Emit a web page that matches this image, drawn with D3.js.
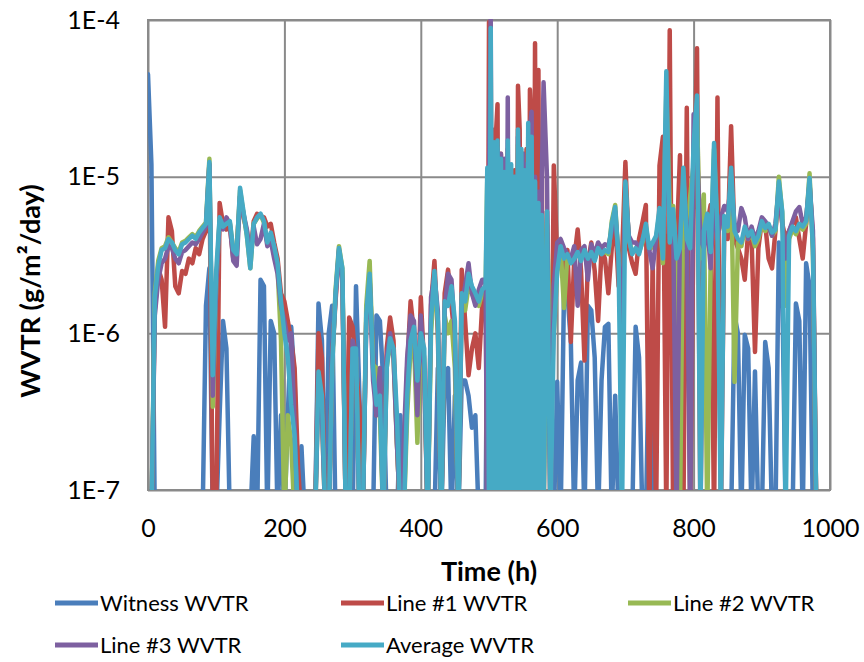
<!DOCTYPE html>
<html><head><meta charset="utf-8">
<script src="https://cdn.jsdelivr.net/npm/d3@7"></script>
<style>body{margin:0;background:#fff}svg{display:block}</style>
</head><body>
<svg id="c" width="864" height="662"></svg>
<script>
// ---- data ----
const times = [
0,5,10,15,20,25,30,35,40,45,
50,55,60,65,70,75,80,85,90,95,
100,105,110,115,120,125,130,135,140,145,
150,155,160,165,170,175,180,185,190,195,
200,205,210,215,220,225,230,235,240,245,
250,255,260,265,270,275,280,285,290,295,
300,305,310,315,320,325,330,335,340,345,
350,355,360,365,370,375,380,385,390,395,
400,405,410,415,420,425,430,435,440,445,
450,455,460,465,470,475,480,485,490,
495,497.5,500,502.5,505,507.5,510,512.5,515,517.5,
520,522.5,525,527.5,530,532.5,535,537.5,540,542.5,
545,547.5,550,552.5,555,557.5,560,562.5,565,567.5,
570,572.5,575,577.5,580,
585,590,595,600,605,610,615,620,625,630,
635,640,645,650,655,660,665,670,675,680,
685,690,695,700,705,710,715,720,725,730,
735,740,745,750,755,760,765,770,775,780,
785,790,795,800,805,810,815,820,825,830,
835,840,845,850,855,860,865,870,875,880,
885,890,895,900,905,910,915,920,925,930,
935,940,945,950,955,960,965,970,975,980];

const witness = [
4.5e-5,1.2e-5,0,0,0,0,0,0,0,0,
0,0,0,0,0,0,0,1.5e-6,2.6e-6,0,
0,3e-7,1.2e-6,8e-7,0,0,0,0,0,0,
0,2.2e-7,0,2.2e-6,2.0e-6,0,1.2e-6,1.0e-6,0,3e-7,
0,3e-7,1.1e-6,5e-7,0,1.9e-7,0,0,0,0,
1.55e-6,9e-7,0,1.0e-6,1.5e-6,0,0,0,0,9e-7,
0,2.0e-6,4e-7,0,0,0,0,1.3e-6,1.2e-6,5e-7,
0,0,0,0,3e-7,0,0,0,0,0,
0,0,0,0,0,6e-7,0,5e-7,6e-7,0,
4e-7,0,5e-7,5e-7,4e-7,2.5e-7,3e-7,0,0,
0,2e-6,0,4e-6,0,5e-6,0,3e-6,0,4e-6,
0,2e-6,0,5e-6,0,3e-6,0,4e-6,0,3e-6,
0,2e-6,0,3e-6,0,2e-6,0,1.5e-6,0,1e-6,
0,8e-7,0,0,0,
0,0,0,4.9e-7,0,1.9e-6,1.8e-6,8.8e-7,0,5e-7,
6.5e-7,0,1.5e-6,1.4e-6,7e-7,0,5e-7,1.1e-6,1.15e-6,0,
4e-7,0,0,0,0,0,1.1e-6,7e-7,0,0,
1.0e-6,0,0,0,0,0,0,0,0,0,
0,0,0,0,0,0,0,0,0,0,
0,0,0,0,0,1.3e-6,1.0e-6,0,9.8e-7,8e-7,
0,5.7e-7,0,0,8.8e-7,6e-7,0,0,3.8e-6,2.0e-6,
0,0,0,1.55e-6,1.2e-6,0,2.8e-6,2.0e-6,0,0];

const line1 = [
0,0,1.4e-6,2.6e-6,2.2e-6,1.1e-6,5.5e-6,4.5e-6,2.0e-6,1.8e-6,
2.5e-6,2.4e-6,3.0e-6,2.8e-6,3.5e-6,3.2e-6,4.0e-6,4.5e-6,1.2e-5,0,
0,6.8e-6,5.0e-6,4.6e-6,4.8e-6,3.0e-6,3.5e-6,7.5e-6,5.5e-6,4.5e-6,
3.0e-6,5.2e-6,5.8e-6,5.6e-6,5.5e-6,4.8e-6,5.0e-6,3.8e-6,3.0e-6,1.8e-6,
1.6e-6,1.2e-6,9e-7,6e-7,1.4e-7,0,0,0,0,0,
1.0e-6,7e-7,0,0,7e-7,1.6e-6,3.3e-6,2.4e-6,0,1.26e-6,
1.1e-6,6e-7,3.4e-7,0,1.2e-6,2.2e-6,7e-7,3e-7,5e-7,0,
8e-7,1.26e-6,9e-7,2e-7,0,0,6e-7,1.6e-6,1.0e-6,3e-7,
1.7e-6,6e-7,0,1.5e-6,2.9e-6,1.0e-6,0,1.8e-6,2.55e-6,1.5e-6,
9e-7,0,2.55e-6,1.2e-6,5.4e-7,8e-7,1.0e-6,6e-7,1.5e-6,
2.0e-6,0,9.7e-5,0,2.0e-5,0,1.8e-5,2.9e-5,0,1.4e-5,
0,1.1e-5,0,1.5e-5,0,1.0e-5,0,1.1e-5,0,3.8e-5,
2.0e-5,0,1.4e-5,0,1.5e-5,0,3.6e-5,2.0e-5,0,7.1e-5,
0,4.8e-5,0,1.2e-5,0,
6e-6,0,1.18e-5,3.0e-6,3.8e-6,2.5e-6,3.4e-6,8.8e-7,3.0e-6,4.6e-6,
2.5e-6,6.7e-7,2.8e-6,3.8e-6,2.5e-6,1.2e-6,3.4e-6,3.0e-6,1.8e-6,3.5e-6,
5.5e-6,2.0e-6,3.0e-6,1.24e-5,3.5e-6,2.8e-6,2.4e-6,4.0e-6,5.1e-6,6.6e-6,
0,3.0e-6,0,1.18e-5,1.8e-5,0,8.6e-5,0,3.5e-6,1.37e-5,
0,2.75e-5,0,6.0e-6,6.6e-5,0,6.0e-6,5.0e-6,6.6e-6,0,
3.2e-5,0,5.0e-6,4.0e-6,2.1e-5,4.0e-6,3.5e-6,3.0e-6,2.2e-6,4.5e-6,
4.0e-6,7.6e-7,3.5e-6,5.2e-6,5.0e-6,3.0e-6,2.6e-6,4.5e-6,8.0e-6,5.0e-6,
4.0e-6,4.5e-6,5.0e-6,5.5e-6,4.0e-6,3.0e-6,5.0e-6,9.0e-6,4.0e-6,0];

const line2 = [
0,0,1.8e-6,2.9e-6,3.5e-6,3.6e-6,4.1e-6,3.8e-6,3.5e-6,3.3e-6,
3.8e-6,3.9e-6,4.1e-6,4.3e-6,4.1e-6,4.5e-6,4.8e-6,5.1e-6,1.3e-5,3.4e-7,
2.0e-6,5.4e-6,4.8e-6,5.0e-6,5.1e-6,3.4e-6,3.2e-6,8.2e-6,5.8e-6,4.2e-6,
2.6e-6,5.0e-6,5.4e-6,5.7e-6,5.1e-6,3.8e-6,4.3e-6,3.5e-6,2.6e-6,9e-7,
0,3e-7,2e-7,0,0,0,0,0,0,0,
5e-7,3e-7,0,0,6e-7,1.9e-6,3.6e-6,2.6e-6,0,0,
8e-7,7e-7,0,0,1.5e-6,2.9e-6,6.3e-7,6e-7,3e-7,0,
6e-7,9e-7,7e-7,2e-7,0,0,3e-7,8e-7,9e-7,2e-7,
1.0e-6,7e-7,0,1.0e-6,2.2e-6,1.2e-6,0,1.3e-6,1.0e-6,1.2e-6,
6e-7,0,1.6e-6,1.4e-6,2.0e-6,1.8e-6,1.6e-6,1.5e-6,1.8e-6,
1.8e-6,1.0e-5,0,6e-5,0,1.4e-5,0,1.5e-5,0,1.1e-5,
0,9e-6,0,1.4e-5,0,1.0e-5,0,9e-6,0,1.6e-5,
0,1.2e-5,0,9e-6,0,1.8e-5,0,1.5e-5,0,8e-6,
0,6e-6,0,5e-6,0,
5e-6,1e-6,1e-6,2.5e-6,3.5e-6,1.45e-6,3.2e-6,2.9e-6,3.0e-6,3.2e-6,
3.0e-6,3.3e-6,3.1e-6,3.2e-6,3.0e-6,3.4e-6,3.3e-6,3.3e-6,3.2e-6,5.2e-6,
6.6e-6,3.0e-6,1.0e-6,9.0e-6,4.0e-6,3.3e-6,3.4e-6,3.3e-6,3.8e-6,4.8e-6,
3.4e-6,3.6e-6,4.0e-6,6.0e-6,2.8e-6,3.5e-5,6.5e-6,6.5e-6,2.8e-6,0,
1.0e-5,3.5e-6,7.5e-6,1.2e-5,2.5e-5,3.0e-6,7.7e-6,0,3.0e-6,1.5e-5,
4.2e-6,5.0e-6,5.5e-6,4.5e-6,1.0e-5,4.9e-7,3.8e-6,3.6e-6,4.6e-6,4.0e-6,
4.3e-6,3.6e-6,4.0e-6,5.0e-6,4.5e-6,4.8e-6,4.2e-6,4.5e-6,1.0e-5,5.8e-6,
1.5e-6,4.0e-6,4.6e-6,4.3e-6,4.8e-6,4.6e-6,5.0e-6,1.05e-5,3.3e-6,0];

const line3 = [
0,0,1.3e-6,2.2e-6,2.8e-6,3.0e-6,3.6e-6,3.5e-6,3.0e-6,2.8e-6,
3.3e-6,3.4e-6,3.6e-6,3.8e-6,3.7e-6,4.0e-6,4.4e-6,4.8e-6,1.2e-5,4e-7,
2.0e-6,5.2e-6,4.6e-6,5.5e-6,5.0e-6,2.9e-6,2.7e-6,7.5e-6,5.8e-6,4.6e-6,
3.0e-6,4.8e-6,3.7e-6,4.0e-6,5.0e-6,3.6e-6,3.9e-6,3.0e-6,2.4e-6,1.5e-6,
1.2e-6,9e-7,1.0e-6,2.5e-7,0,0,0,0,0,0,
5e-7,3e-7,0,0,7e-7,1.7e-6,3.4e-6,2.2e-6,0,0,
9e-7,7e-7,0,0,1.2e-6,2.2e-6,5e-7,3e-7,6e-7,0,
7e-7,1.0e-6,7e-7,2e-7,0,2e-7,7e-7,1.3e-6,1.2e-6,3e-7,
1.3e-6,6e-7,0,1.7e-6,2.3e-6,1.4e-6,0,1.4e-6,2.4e-6,2.2e-6,
1.0e-6,0,1.6e-6,2.0e-6,2.8e-6,1.8e-6,1.5e-6,1.9e-6,2.2e-6,
2.2e-6,0,1.0e-5,1.05e-4,0,1.6e-5,0,1.5e-5,0,1.4e-5,
0,1.3e-5,0,3.2e-5,0,1.0e-5,0,1.0e-5,0,1.8e-5,
1.2e-5,0,1.4e-5,0,1.2e-5,0,2.0e-5,2.6e-5,0,1.0e-5,
0,8e-6,0,1.0e-5,4.0e-5,
1.0e-5,0,2.0e-6,3.8e-6,4.0e-6,3.5e-6,3.2e-6,3.0e-6,3.6e-6,1.5e-6,
3.4e-6,3.6e-6,2.2e-6,3.7e-6,3.2e-6,3.8e-6,3.5e-6,3.7e-6,3.6e-6,4.5e-6,
6.0e-6,3.0e-6,1.0e-6,8.5e-6,4.2e-6,3.8e-6,3.8e-6,3.5e-6,4.0e-6,4.6e-6,
3.4e-6,2.6e-6,4.0e-6,5.5e-6,3.5e-6,2.5e-5,4.0e-6,5.0e-6,0,4.5e-6,
8.0e-6,5.0e-6,0,2.5e-5,1.5e-5,4.0e-6,3.5e-6,5.0e-6,2.6e-6,8.0e-6,
4.0e-6,5.5e-6,6.5e-6,6.0e-6,9.0e-6,5.0e-6,4.5e-6,6.3e-6,5.5e-6,4.0e-6,
4.8e-6,4.0e-6,4.5e-6,5.5e-6,5.2e-6,4.8e-6,4.2e-6,5.0e-6,8.5e-6,5.0e-6,
3.0e-6,4.5e-6,5.2e-6,6.0e-6,6.4e-6,5.0e-6,5.5e-6,9.0e-6,4.5e-6,0];

const average = [
0,0,1.7e-6,2.7e-6,3.4e-6,3.5e-6,4.0e-6,3.8e-6,3.4e-6,3.2e-6,
3.7e-6,3.8e-6,4.0e-6,4.2e-6,4.0e-6,4.4e-6,4.7e-6,5.0e-6,1.24e-5,5.4e-7,
2.5e-6,5.5e-6,4.8e-6,5.0e-6,5.2e-6,3.4e-6,3.2e-6,8.5e-6,6.0e-6,4.2e-6,
2.6e-6,5.0e-6,5.5e-6,5.8e-6,5.2e-6,3.8e-6,4.4e-6,3.6e-6,2.8e-6,1.6e-6,
1.0e-6,7e-7,3.5e-7,2.2e-7,0,0,0,0,0,0,
5.7e-7,4e-7,0,0,6e-7,1.8e-6,3.5e-6,2.6e-6,0,0,
8e-7,8e-7,0,0,1.3e-6,2.4e-6,6e-7,3.5e-7,4e-7,0,
6e-7,9.3e-7,8e-7,3e-7,0,0,4e-7,9e-7,1.1e-6,5e-7,
1.0e-6,8e-7,0,1.2e-6,2.5e-6,1.2e-6,0,1.6e-6,1.5e-6,2.0e-6,
1.2e-6,0,1.8e-6,1.6e-6,2.4e-6,2.0e-6,1.8e-6,1.6e-6,1.9e-6,
2.0e-6,1.14e-5,0,8.9e-5,0,1.66e-5,0,1.7e-5,0,1.3e-5,
0,1.07e-5,0,1.7e-5,0,1.2e-5,0,1.0e-5,0,2.0e-5,
0,1.5e-5,0,1.1e-5,0,2.2e-5,0,1.8e-5,0,9.3e-6,
0,6.8e-6,0,5.7e-6,0,
6e-6,0,1.0e-6,2.5e-6,3.6e-6,3.0e-6,3.2e-6,2.8e-6,3.0e-6,3.3e-6,
2.9e-6,3.4e-6,3.0e-6,3.3e-6,2.9e-6,3.5e-6,3.2e-6,3.4e-6,3.3e-6,5.0e-6,
6.4e-6,3.0e-6,0,9.3e-6,4.0e-6,3.2e-6,3.5e-6,3.2e-6,3.9e-6,5.0e-6,
3.5e-6,3.8e-6,4.2e-6,6.3e-6,3.0e-6,4.7e-5,3.8e-6,6.2e-6,3.0e-6,3.5e-6,
1.14e-5,4.0e-6,3.5e-6,1.6e-5,3.3e-5,0,4.5e-6,5.8e-6,3.3e-6,1.64e-5,
4.5e-6,0,5.6e-6,4.8e-6,1.14e-5,4.5e-6,4.0e-6,3.8e-6,4.8e-6,4.2e-6,
4.5e-6,3.8e-6,4.2e-6,5.2e-6,4.7e-6,5.0e-6,4.4e-6,4.6e-6,9.3e-6,6.0e-6,
0,4.2e-6,4.8e-6,4.5e-6,5.0e-6,4.8e-6,5.2e-6,9.8e-6,3.5e-6,0];

const seriesNames = ["Witness WVTR","Line #1 WVTR","Line #2 WVTR","Line #3 WVTR","Average WVTR"];
const seriesValues = [witness, line1, line2, line3, average];
const colors = ["#4a7ebb","#be4b48","#98b954","#7d60a0","#46aac5"];
const yTicks = [1e-4,1e-5,1e-6,1e-7];
const yTickLabels = ["1E-4","1E-5","1E-6","1E-7"];
const xTicks = [0,200,400,600,800,1000];
const xTickLabels = ["0","200","400","600","800","1000"];
const xTitle = "Time (h)";
const yTitle = "WVTR (g/m²/day)";

// ---- drawing ----
const svg = d3.select("#c");
const P = {l:148, t:20, r:830, b:490};
const x = d3.scaleLinear().domain([0,1000]).range([P.l, P.r]);
const y = d3.scaleLog().domain([1e-7,1e-4]).range([P.b, P.t]);
const gridColor = "#8a8a8a";
const font = "Lato, 'Open Sans', sans-serif";

// grid
const gy = svg.append("g").attr("transform",`translate(${P.l},0)`)
  .call(d3.axisLeft(y).tickValues(yTicks).tickSize(-(P.r-P.l)).tickFormat((d,i)=>yTickLabels[i]).tickPadding(28));
gy.select(".domain").remove();
gy.selectAll(".tick line").attr("stroke",gridColor).attr("stroke-width",2);
gy.selectAll(".tick text").attr("font-family",font).attr("font-size",25).attr("fill","#000");

const gx = svg.append("g").attr("transform",`translate(0,${P.b})`)
  .call(d3.axisBottom(x).tickValues(xTicks).tickSize(-(P.b-P.t)).tickFormat((d,i)=>xTickLabels[i]).tickPadding(29));
gx.select(".domain").remove();
gx.selectAll(".tick line").attr("stroke",gridColor).attr("stroke-width",2);
gx.selectAll(".tick text").attr("font-family",font).attr("font-size",25).attr("fill","#000");

svg.append("rect").attr("x",P.l).attr("y",P.t).attr("width",P.r-P.l).attr("height",P.b-P.t)
  .attr("fill","none").attr("stroke",gridColor).attr("stroke-width",2);

// clip
svg.append("defs").append("clipPath").attr("id","pc").append("rect")
  .attr("x",P.l).attr("y",P.t-1).attr("width",P.r-P.l).attr("height",P.b-P.t+1);

const line = d3.line()
  .x((d,i)=>x(times[i]))
  .y(d => d > 0 ? y(d) : P.b + 30);

const gl = svg.append("g").attr("clip-path","url(#pc)");
seriesValues.forEach((vals,k)=>{
  gl.append("path").datum(vals).attr("d",line)
    .attr("fill","none").attr("stroke",colors[k]).attr("stroke-width",4.5)
    .attr("stroke-linejoin","round").attr("stroke-linecap","round");
});

// axis titles
svg.append("text").attr("x",(P.l+P.r)/2).attr("y",581).attr("text-anchor","middle")
  .attr("font-family",font).attr("font-weight","bold").attr("font-size",27).text(xTitle);
svg.append("text").attr("transform",`translate(40,${(P.t+P.b)/2+36}) rotate(-90)`).attr("text-anchor","middle")
  .attr("font-family",font).attr("font-weight","bold").attr("font-size",27).text(yTitle);

// legend
const legPos = [[55,603],[341,603],[628,603],[55,645],[341,645]];
seriesNames.forEach((n,k)=>{
  const [lx,ly] = legPos[k];
  svg.append("line").attr("x1",lx).attr("x2",lx+43).attr("y1",ly).attr("y2",ly)
    .attr("stroke",colors[k]).attr("stroke-width",5);
  svg.append("text").attr("x",lx+45).attr("y",ly+8).attr("font-family",font).attr("font-size",22).text(n);
});
</script>
</body></html>
